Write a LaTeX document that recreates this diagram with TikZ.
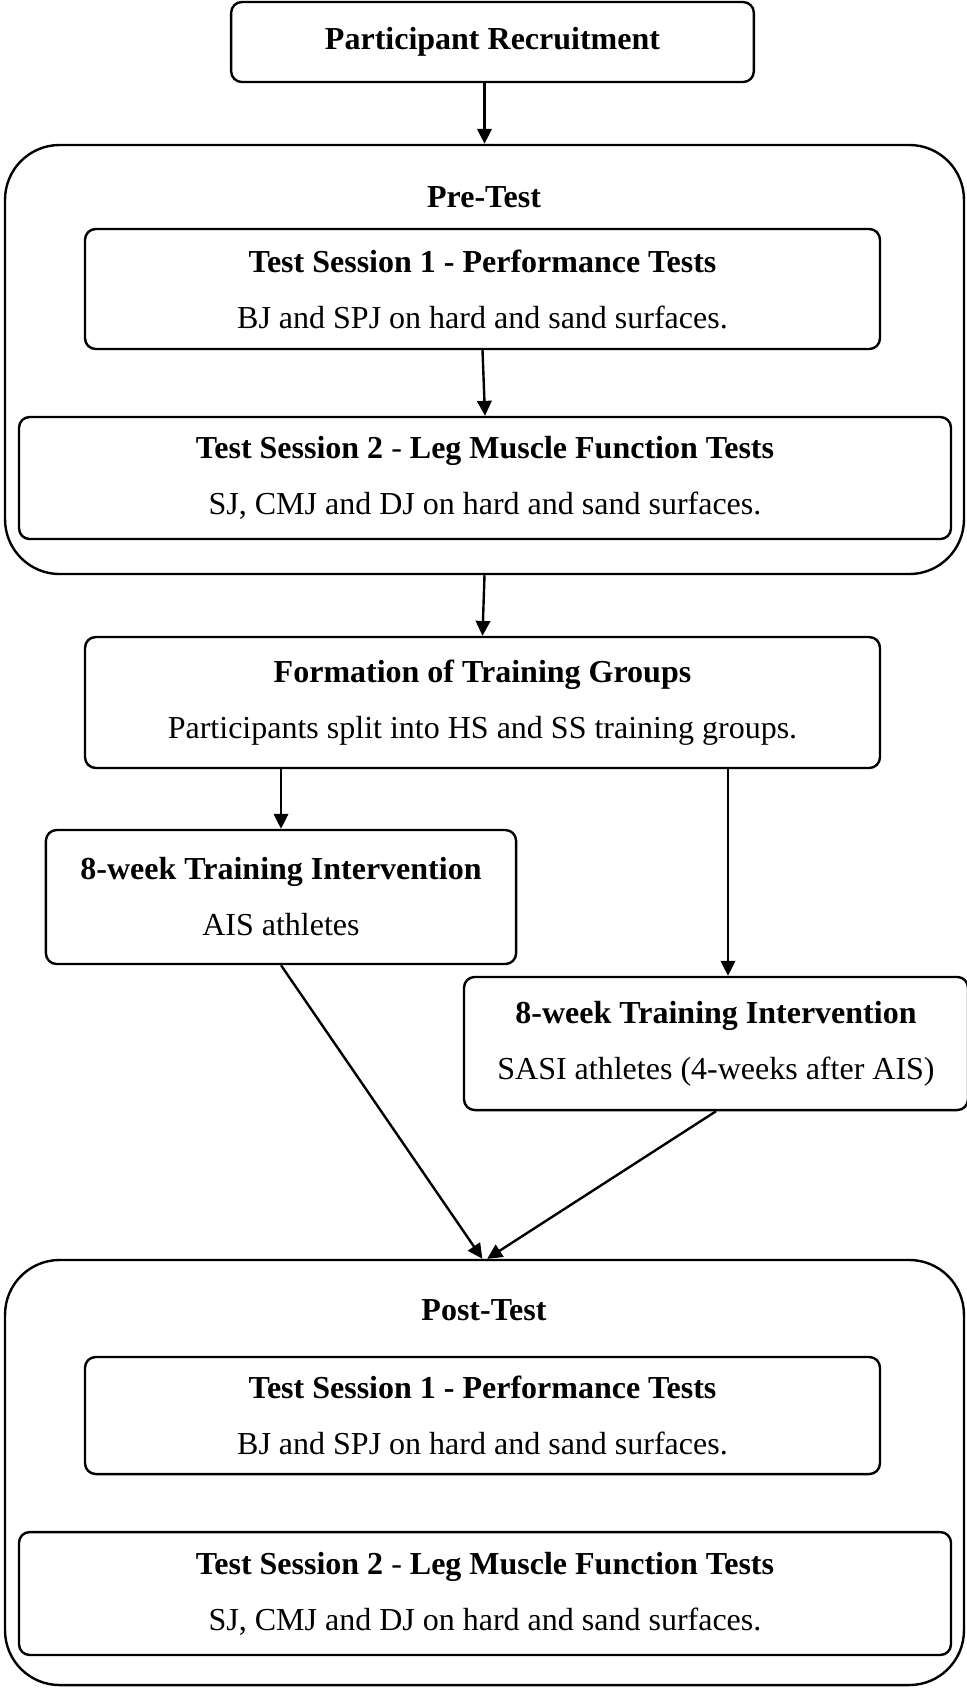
\documentclass[tikz,border=0pt]{standalone}
\usepackage{fontspec}
\setmainfont{Liberation Serif}
\usetikzlibrary{arrows.meta}

\tikzset{
  box/.style={draw, line width=0.9pt, rounded corners=4pt, inner sep=0pt, align=center, font=\fontsize{12}{21}\selectfont},
  stage/.style={draw, line width=0.9pt, rounded corners=20.5pt, inner sep=0pt},
  flow/.style={line width=0.9pt, -{Triangle[length=5.6pt, width=5.4pt]}}
}

\begin{document}
\begin{tikzpicture}[x=0.375pt, y=-0.375pt]
    \useasboundingbox (0, 0) rectangle (967, 1688);

    \node [box, minimum width=196pt, minimum height=30pt] (recruit) at (492.5, 42) {\textbf{Participant Recruitment}};

    % pre-test block
    \node [stage, minimum width=359.6pt, minimum height=160.9pt] (pre) at (484.5, 359.5) {};
    \node [font=\fontsize{12}{14}\selectfont\bfseries] (pretitle) at (484, 197) {Pre-Test};
    \node [box, minimum width=298.1pt, minimum height=45pt] (prets1) at (482.5, 289)
      {\textbf{Test Session 1 - Performance Tests}\\ BJ and SPJ on hard and sand surfaces.};
    \node [box, minimum width=349.5pt, minimum height=45.75pt] (prets2) at (485, 478)
      {\textbf{Test Session 2} - \textbf{Leg Muscle Function Tests}\\ SJ, CMJ and DJ on hard and sand surfaces.};

    \node [box, minimum width=298.1pt, minimum height=49.1pt] (groups) at (482.5, 702.5)
      {\textbf{Formation of Training Groups}\\ Participants split into HS and SS training groups.};
    \node [box, minimum width=176.3pt, minimum height=50.25pt] (ais) at (281, 897)
      {\textbf{8-week Training Intervention}\\ AIS athletes};
    \node [box, minimum width=189pt, minimum height=49.9pt] (sasi) at (716, 1043.5)
      {\textbf{8-week Training Intervention}\\ SASI athletes (4-weeks after AIS)};

    % post-test block
    \node [stage, minimum width=359.6pt, minimum height=159.4pt] (post) at (484.5, 1472.5) {};
    \node [font=\fontsize{12}{14}\selectfont\bfseries] (posttitle) at (484, 1310) {Post-Test};
    \node [box, minimum width=298.1pt, minimum height=43.9pt] (postts1) at (482.5, 1415.5)
      {\textbf{Test Session 1 - Performance Tests}\\ BJ and SPJ on hard and sand surfaces.};
    \node [box, minimum width=349.5pt, minimum height=46.1pt] (postts2) at (485, 1593.5)
      {\textbf{Test Session 2} - \textbf{Leg Muscle Function Tests}\\ SJ, CMJ and DJ on hard and sand surfaces.};

    \draw [flow] (recruit.south -| pre.north) -- (pre.north);
    \draw [flow] (prets1.south) -- (prets2.north);
    \draw [flow] (pre.south) -- (groups.north);
    \draw [flow] (groups.south -| ais.north) -- (ais.north);
    \draw [flow] ([xshift=4.5pt]groups.south -| sasi.north) -- ([xshift=4.5pt]sasi.north);
    \draw [flow] (ais.south) -- ([xshift=-0.8pt]post.north);
    \draw [flow] (sasi.south) -- ([xshift=1pt]post.north);
\end{tikzpicture}
\end{document}
